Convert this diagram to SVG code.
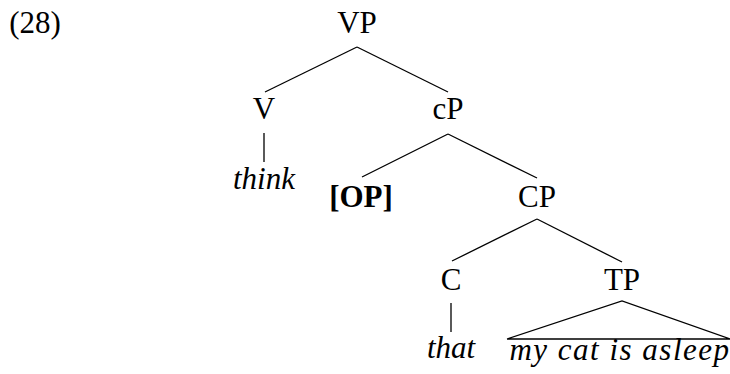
<svg xmlns="http://www.w3.org/2000/svg" width="730" height="374" viewBox="0 0 730 374">
<style>
.t{font-family:"Liberation Serif",serif;font-size:31px;fill:#000;text-anchor:middle}
.it{font-style:italic}
.b{font-weight:bold}
.e{stroke:#000;stroke-width:1.3;fill:none}
</style>
<rect width="730" height="374" fill="#fff"/>
<text id="ex" class="t" x="35" y="33">(28)</text>
<g id="connectors">
<line class="e" x1="357" y1="47" x2="265" y2="92"/>
<line class="e" x1="357" y1="47" x2="448" y2="92"/>
<line class="e" x1="264" y1="133" x2="264" y2="162"/>
<line class="e" x1="448" y1="134" x2="362" y2="177"/>
<line class="e" x1="448" y1="134" x2="537" y2="178"/>
<line class="e" x1="537" y1="219" x2="452" y2="261"/>
<line class="e" x1="537" y1="219" x2="622" y2="262"/>
<line class="e" x1="451" y1="303" x2="451" y2="332"/>
<polyline class="e" points="507,339 622,301 730,339 507,339"/>
</g>
<g id="VP"><text class="t" x="357" y="33">VP</text></g>
<g id="V"><text class="t" x="264" y="119">V</text></g>
<g id="cP"><text class="t" x="448" y="119">cP</text></g>
<g id="think"><text class="t it" x="264" y="189">think</text></g>
<g id="OP"><text class="t b" x="361" y="207">[OP]</text></g>
<g id="CP"><text class="t" x="537" y="207">CP</text></g>
<g id="C"><text class="t" x="451" y="290">C</text></g>
<g id="TP"><text class="t" x="622" y="290">TP</text></g>
<g id="that"><text class="t it" x="451" y="358">that</text></g>
<g id="mycat"><text class="t it" x="620" y="360" letter-spacing="1.5">my cat is asleep</text></g>
</svg>
